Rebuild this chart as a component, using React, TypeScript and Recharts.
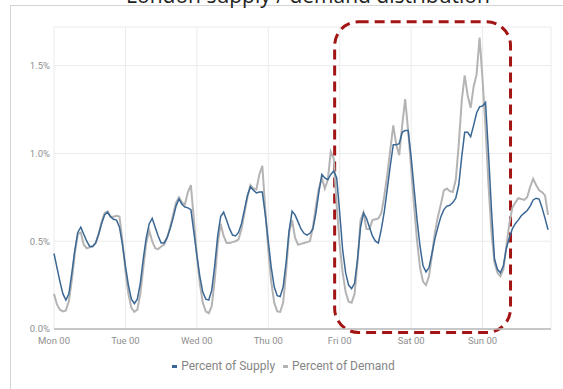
import {
  CartesianGrid,
  Legend,
  Line,
  LineChart,
  ReferenceArea,
  XAxis,
  YAxis,
} from 'recharts';

// Hourly share (%) of London supply and demand, Mon 00 through Sun 22.
const supplyPct = [
  // Mon
  0.43, 0.35, 0.27, 0.2, 0.165, 0.2, 0.32, 0.45, 0.55, 0.58, 0.54, 0.5,
  0.47, 0.47, 0.49, 0.54, 0.6, 0.65, 0.665, 0.64, 0.625, 0.62, 0.58, 0.48,
  // Tue
  0.36, 0.25, 0.17, 0.145, 0.17, 0.26, 0.4, 0.52, 0.6, 0.63, 0.58, 0.53,
  0.49, 0.49, 0.52, 0.57, 0.63, 0.7, 0.74, 0.71, 0.695, 0.69, 0.68, 0.55,
  // Wed
  0.42, 0.3, 0.21, 0.17, 0.165, 0.22, 0.36, 0.53, 0.64, 0.665, 0.62, 0.57,
  0.535, 0.53, 0.55, 0.6, 0.68, 0.76, 0.81, 0.79, 0.775, 0.78, 0.78, 0.65,
  // Thu
  0.5, 0.35, 0.24, 0.19, 0.185, 0.24, 0.38, 0.56, 0.67, 0.65, 0.61, 0.57,
  0.545, 0.535, 0.545, 0.57, 0.66, 0.78, 0.88, 0.86, 0.85, 0.88, 0.9, 0.86,
  // Fri
  0.66, 0.45, 0.32, 0.25, 0.23, 0.26, 0.4, 0.58, 0.66, 0.63, 0.58, 0.53,
  0.5, 0.49, 0.57, 0.67, 0.8, 0.93, 1.05, 1.05, 1.055, 1.12, 1.13, 1.13,
  // Sat
  0.98, 0.8, 0.62, 0.47, 0.36, 0.325, 0.35, 0.43, 0.515, 0.58, 0.64, 0.68,
  0.7, 0.705, 0.72, 0.745, 0.82, 0.98, 1.12, 1.12, 1.095, 1.16, 1.23, 1.265,
  // Sun
  1.27, 1.29, 1.0, 0.68, 0.4, 0.34, 0.32, 0.36, 0.46, 0.52, 0.57, 0.6,
  0.62, 0.645, 0.66, 0.675, 0.7, 0.735, 0.745, 0.74, 0.69, 0.63, 0.565,
];

const demandPct = [
  // Mon
  0.2, 0.14, 0.11, 0.1, 0.105, 0.16, 0.28, 0.43, 0.54, 0.55, 0.48, 0.46,
  0.465, 0.47, 0.49, 0.54, 0.61, 0.66, 0.67, 0.64, 0.64, 0.645, 0.64, 0.5,
  // Tue
  0.33, 0.2, 0.12, 0.098, 0.11, 0.2, 0.35, 0.49, 0.56, 0.5, 0.46, 0.455,
  0.47, 0.48, 0.52, 0.58, 0.65, 0.72, 0.75, 0.72, 0.71, 0.78, 0.82, 0.62,
  // Wed
  0.42, 0.26, 0.15, 0.1, 0.09, 0.13, 0.28, 0.48, 0.6, 0.53, 0.49, 0.49,
  0.495, 0.5, 0.51, 0.57, 0.66, 0.75, 0.82, 0.8, 0.795, 0.88, 0.93, 0.68,
  // Thu
  0.45, 0.27, 0.15, 0.1, 0.097, 0.15, 0.33, 0.55, 0.62, 0.52, 0.48, 0.485,
  0.49, 0.495, 0.5, 0.58, 0.7, 0.8, 0.86, 0.8, 0.85, 1.01, 0.97, 0.7,
  // Fri
  0.48, 0.32, 0.21, 0.155, 0.15, 0.2, 0.38, 0.62, 0.665, 0.57, 0.57, 0.62,
  0.625, 0.63, 0.66, 0.76, 0.88, 1.02, 1.16, 1.05, 0.99, 1.16, 1.31, 1.13,
  // Sat
  0.92, 0.7, 0.5, 0.35, 0.27, 0.25, 0.3, 0.42, 0.55, 0.64, 0.71, 0.79,
  0.8, 0.785, 0.78, 0.85, 1.05, 1.3, 1.445, 1.33, 1.26, 1.38, 1.45, 1.66,
  // Sun
  1.42, 1.15, 0.82, 0.55, 0.38, 0.32, 0.3, 0.34, 0.47, 0.6, 0.69, 0.72,
  0.745, 0.74, 0.735, 0.75, 0.81, 0.855, 0.82, 0.79, 0.78, 0.76, 0.65,
];

const dayLabels = ['Mon 00', 'Tue 00', 'Wed 00', 'Thu 00', 'Fri 00', 'Sat 00', 'Sun 00'];
const dayTicks = [0, 24, 48, 72, 96, 120, 144];
const pctTicks = [0, 0.5, 1, 1.5];

// Weekend window that gets the dashed callout (hours, %)
const highlightHours = [94.3, 153.4];
const highlightPct = [-0.02, 1.75];

const SUPPLY_COLOR = '#3a6794';
const DEMAND_COLOR = '#b4b4b4';
const TEXT_COLOR = '#8f8f8f';
const FONT = 'Roboto, "Noto Sans", sans-serif';

const data = supplyPct.map((supply, hour) => ({
  hour,
  supply,
  demand: demandPct[hour],
}));

function CalloutBox(props: { x?: number; y?: number; width?: number; height?: number }) {
  const { x = 0, y = 0, width = 0, height = 0 } = props;
  return (
    <rect
      x={x}
      y={y}
      width={width}
      height={height}
      rx={24}
      ry={24}
      fill="none"
      stroke="#a31414"
      strokeWidth={3}
      strokeDasharray="10 6"
    />
  );
}

function LegendContent() {
  const items = [
    { label: 'Percent of Supply', color: SUPPLY_COLOR },
    { label: 'Percent of Demand', color: DEMAND_COLOR },
  ];
  return (
    <div
      style={{
        display: 'flex',
        justifyContent: 'center',
        gap: 8,
        fontFamily: FONT,
        fontSize: 12,
        color: '#858585',
        paddingLeft: 16,
        paddingTop: 3,
      }}
    >
      {items.map((item) => (
        <span key={item.label} style={{ display: 'flex', alignItems: 'center' }}>
          <span
            style={{
              display: 'inline-block',
              width: 5,
              height: 3,
              background: item.color,
              marginRight: 4,
            }}
          />
          {item.label}
        </span>
      ))}
    </div>
  );
}

export default function App() {
  return (
    <div
      style={{
        position: 'absolute',
        left: 0,
        top: 0,
        width: 563,
        height: 389,
        background: '#fff',
        overflow: 'hidden',
      }}
    >
      <div
        style={{
          position: 'absolute',
          left: 10,
          top: 5,
          right: -1,
          bottom: -1,
          border: '1px solid #d4d4d4',
        }}
      />
      <div
        style={{
          position: 'absolute',
          left: 0,
          top: -17,
          width: 616,
          textAlign: 'center',
          fontFamily: '"Open Sans", sans-serif',
          fontSize: 21,
          lineHeight: '24px',
          color: '#222',
        }}
      >
        London supply / demand distribution
      </div>
      <div style={{ position: 'absolute', left: 0, top: 0 }}>
        <LineChart
          width={563}
          height={389}
          data={data}
          margin={{ top: 27, right: 12, bottom: 13, left: 0 }}
        >
          <CartesianGrid stroke="#ebebeb" strokeWidth={1} />
          <XAxis
            type="number"
            dataKey="hour"
            domain={[0, 167]}
            ticks={dayTicks}
            tickFormatter={(value) => dayLabels[dayTicks.indexOf(Number(value))] ?? ''}
            tick={{ fill: TEXT_COLOR, fontSize: 9.5, fontFamily: FONT }}
            tickLine={false}
            axisLine={{ stroke: '#b8b8b8', strokeWidth: 1.5 }}
            height={27}
          />
          <YAxis
            width={54}
            domain={[0, 1.72]}
            ticks={pctTicks}
            tickFormatter={(value) => `${Number(value).toFixed(1)}%`}
            tick={{ fill: TEXT_COLOR, fontSize: 9.5, fontFamily: FONT }}
            tickLine={false}
            tickSize={0}
            tickMargin={4}
            axisLine={false}
          />
          <Legend verticalAlign="bottom" height={20} content={<LegendContent />} />
          <Line
            type="linear"
            dataKey="demand"
            name="Percent of Demand"
            stroke={DEMAND_COLOR}
            strokeWidth={2}
            dot={false}
            isAnimationActive={false}
          />
          <Line
            type="linear"
            dataKey="supply"
            name="Percent of Supply"
            stroke={SUPPLY_COLOR}
            strokeWidth={1.5}
            dot={false}
            isAnimationActive={false}
          />
          <ReferenceArea
            x1={highlightHours[0]}
            x2={highlightHours[1]}
            y1={highlightPct[0]}
            y2={highlightPct[1]}
            ifOverflow="visible"
            shape={<CalloutBox />}
          />
        </LineChart>
      </div>
    </div>
  );
}
